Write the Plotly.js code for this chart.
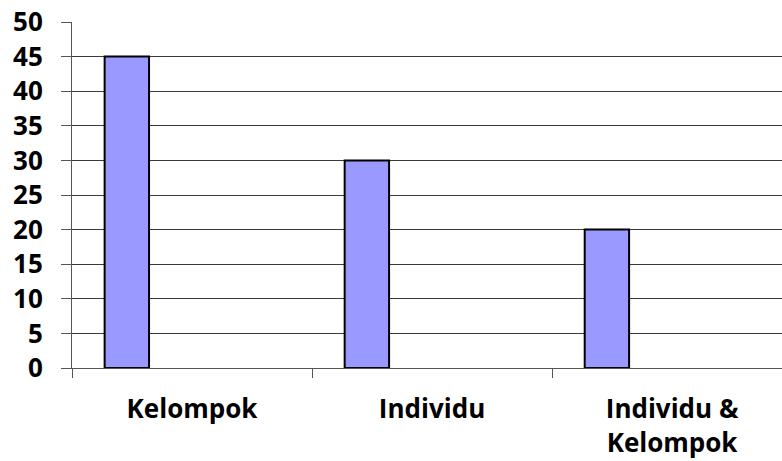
<!DOCTYPE html>
<html>
<head>
<meta charset="utf-8">
<script src="https://cdn.plot.ly/plotly-3.0.1.min.js"></script>
<style>html,body{margin:0;padding:0;background:#fff}#chart{width:782px;height:461px}</style>
</head>
<body>
<div id="chart"></div>
<script>
var categories = ["Kelompok", "Individu", "Individu &<br>Kelompok"];
var values = [45, 30, 20];
var yTicks = [0, 5, 10, 15, 20, 25, 30, 35, 40, 45, 50];

var font = {family: "Open Sans, sans-serif", size: 26, color: "#000"};

var trace = {
  type: "bar",
  x: categories,
  y: values,
  width: 0.185,
  offset: -0.364,
  marker: {color: "#9999FF", line: {color: "#000", width: 2}},
  hoverinfo: "none"
};

var layout = {
  width: 782,
  height: 461,
  margin: {l: 72, r: 0, t: 22, b: 93},
  paper_bgcolor: "#fff",
  plot_bgcolor: "#fff",
  showlegend: false,
  bargap: 0,
  font: font,
  xaxis: {
    type: "category",
    range: [-0.5, 2.458],
    tickson: "boundaries",
    ticks: "outside",
    ticklen: 9,
    tickcolor: "#555",
    tickwidth: 1,
    showgrid: false,
    showline: true,
    linecolor: "#555",
    linewidth: 1,
    tickfont: {family: "Open Sans, sans-serif", size: 26, color: "#000", weight: "bold"},
    ticklabelstandoff: 18,
    fixedrange: true
  },
  yaxis: {
    range: [0, 50],
    tickvals: yTicks,
    ticktext: yTicks.map(String),
    ticks: "outside",
    ticklen: 10,
    tickcolor: "#555",
    tickwidth: 1,
    showgrid: true,
    gridcolor: "#3a3a3a",
    gridwidth: 1,
    showline: true,
    linecolor: "#555",
    linewidth: 1,
    zeroline: false,
    tickfont: {family: "Open Sans, sans-serif", size: 26, color: "#000", weight: "bold"},
    ticklabelstandoff: 13,
    fixedrange: true
  }
};

Plotly.newPlot("chart", [trace], layout, {displayModeBar: false, staticPlot: true});
</script>
</body>
</html>
